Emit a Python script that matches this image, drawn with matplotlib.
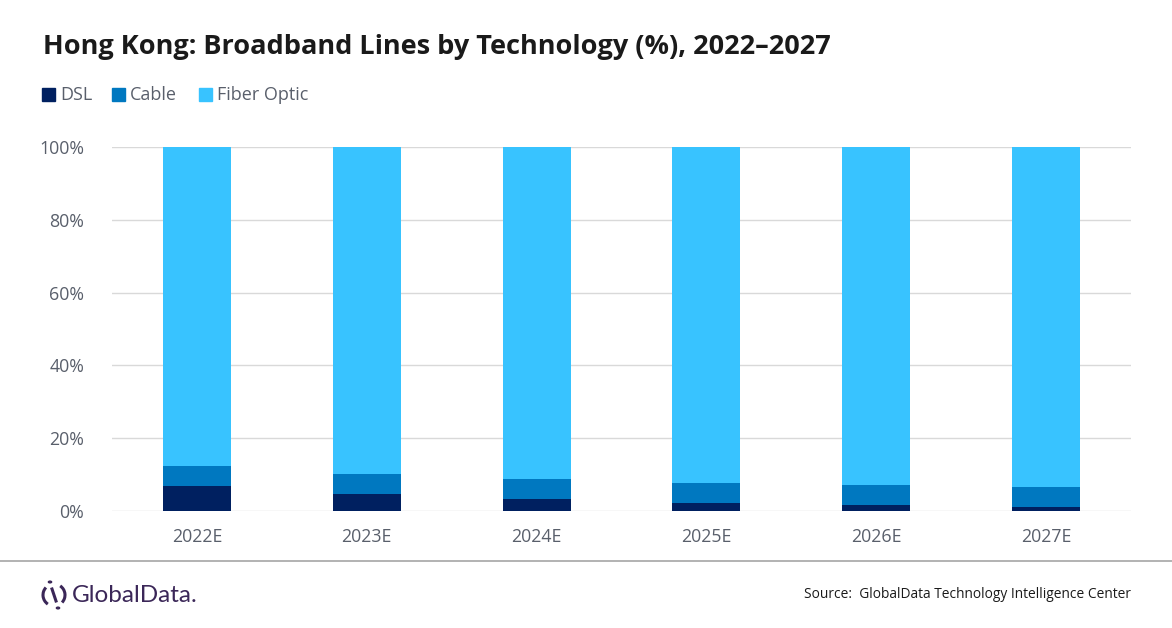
import numpy as np
import matplotlib
matplotlib.use("Agg")
import matplotlib.pyplot as plt
from matplotlib.patches import Rectangle, Arc, Circle

# values (% of broadband lines)
years = ["2022E", "2023E", "2024E", "2025E", "2026E", "2027E"]
dsl = [6.8, 4.6, 3.2, 2.1, 1.6, 1.0]
cable = [5.5, 5.5, 5.6, 5.6, 5.5, 5.5]
fiber = [100 - d - c for d, c in zip(dsl, cable)]

series_names = ["DSL", "Cable", "Fiber Optic"]
colors = ["#002060", "#0078C0", "#38C3FF"]
text_grey = "#595F6B"

W, H = 1172, 628
plt.rcParams["font.family"] = ["Open Sans", "DejaVu Sans"]

fig = plt.figure(figsize=(W / 100, H / 100), dpi=100)
fig.patch.set_facecolor("white")

ax = fig.add_axes([112 / W, (H - 511) / H, (1131 - 112) / W, 364 / H])

x = np.arange(len(years))
ax.bar(x, dsl, width=0.4, color=colors[0], zorder=3)
ax.bar(x, cable, width=0.4, bottom=dsl, color=colors[1], zorder=3)
ax.bar(x, fiber, width=0.4, bottom=np.add(dsl, cable), color=colors[2], zorder=3)

ax.set_xlim(-0.5, len(years) - 0.5)
ax.set_ylim(0, 100)
ax.set_yticks(range(0, 101, 20))
ax.set_yticklabels([f"{v}%" for v in range(0, 101, 20)])
ax.set_xticks(x)
ax.set_xticklabels(years)
ax.tick_params(axis="both", length=0, colors=text_grey, labelsize=12.8)
ax.tick_params(axis="y", pad=20)
ax.tick_params(axis="x", pad=12)
ax.grid(axis="y", color="#D9D9D9", linewidth=1, zorder=0)
for s in ax.spines.values():
    s.set_visible(False)

# title
fig.text(43 / W, 1 - 47 / H, "Hong Kong: Broadband Lines by Technology (%), 2022\u20132027",
         fontsize=19.5, fontweight="bold", color="#1A1A1A", va="center", ha="left")

# legend
leg_x = [42, 112, 199]
for name, col, lx in zip(series_names, colors, leg_x):
    fig.patches.append(Rectangle((lx / W, 1 - 101 / H), 12.5 / W, 13 / H,
                                 transform=fig.transFigure, color=col))
    fig.text((lx + 18) / W, 1 - 95 / H, name, fontsize=13, color=text_grey,
             va="center", ha="left")

# footer separator
fig.add_artist(plt.Line2D([0, 1], [1 - 561 / H, 1 - 561 / H], color="#A6A6A6",
                          linewidth=1.2, transform=fig.transFigure))

fig.text(1131 / W, 1 - 594 / H, "Source:  GlobalData Technology Intelligence Center",
         fontsize=9.9, color="#1A1A1A", va="center", ha="right")

# logo
purple = "#3B2758"
cx, cy, r = 54, 595, 11
fig.add_artist(Arc((cx / W, 1 - cy / H), 2 * r / W, 2 * r / H, theta1=120, theta2=250,
                   color=purple, linewidth=2.2, transform=fig.transFigure))
fig.add_artist(Arc((cx / W, 1 - cy / H), 2 * r / W, 2 * r / H, theta1=300, theta2=70,
                   color=purple, linewidth=2.2, transform=fig.transFigure))
fig.add_artist(plt.Line2D([(cx - 2) / W, (cx + 2) / W], [1 - (cy - 6) / H, 1 - (cy + 6) / H],
                          color=purple, linewidth=2.2, transform=fig.transFigure))
fig.add_artist(Circle(((cx - 4) / W, 1 - (cy - 13) / H), 1.6 / W, color=purple,
                      transform=fig.transFigure))
fig.add_artist(Circle(((cx + 4) / W, 1 - (cy + 13) / H), 1.6 / W, color=purple,
                      transform=fig.transFigure))
fig.text(72 / W, 1 - 596 / H, "GlobalData.", fontsize=17.5, color=purple,
         va="center", ha="left", family=["Lato", "DejaVu Sans"])

fig.savefig("out.png", dpi=100)
